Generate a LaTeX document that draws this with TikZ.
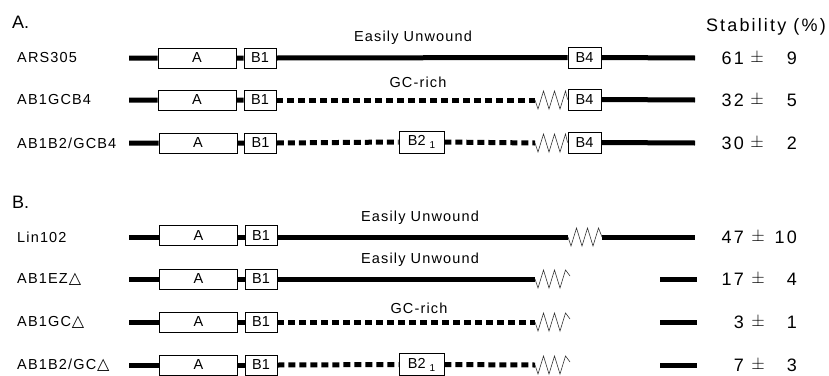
\documentclass[tikz,border=0pt]{standalone}
\usepackage{fontspec}
\setmainfont{Liberation Sans}
\newfontfamily\lblf[LetterSpace=8]{Liberation Sans}
\newfontfamily\bigf[LetterSpace=12]{Liberation Sans}
\newfontfamily\symf{DejaVu Sans}
\newcommand{\tri}{\hspace{1pt}\raisebox{0.5pt}{\symf\fontsize{16}{16}\selectfont △}}
\newcommand{\btwo}{B2\hspace{4pt}\raisebox{-3pt}{\fontsize{10}{10}\selectfont 1}}
\begin{document}
\begin{tikzpicture}[x=1pt,y=-1pt,
  thk/.style={line width=5pt,line cap=butt},
  dsh/.style={line width=5pt,line cap=butt,dash pattern=on 7pt off 4pt},
  zig/.style={line width=0.6pt,black!80,line join=miter},
  zz/.style={to path={-- ++(3,9) -- ++(5.5,-18) -- ++(5.5,18) -- ++(5.5,-18) -- ++(5.5,18) -- ++(5.5,-18) -- (\tikztotarget)}},
  boxA/.style={draw,line width=0.8pt,fill=white,minimum width=78pt,minimum height=20pt,inner sep=0pt,font=\fontsize{14.5}{14.5}\selectfont},
  boxB/.style={draw,line width=0.8pt,fill=white,minimum width=32pt,minimum height=20pt,inner sep=0pt,font=\fontsize{14.5}{14.5}\selectfont},
  boxC/.style={draw,line width=0.8pt,fill=white,minimum width=45pt,minimum height=22pt,inner sep=0pt,font=\fontsize{14.5}{14.5}\selectfont},
  lbl/.style={anchor=west,inner sep=0pt,font=\lblf\fontsize{14.5}{14.5}\selectfont},
  seg/.style={inner sep=0pt,font=\lblf\fontsize{14.5}{14.5}\selectfont},
  head/.style={anchor=west,inner sep=0pt,font=\fontsize{18}{18}\selectfont},
  val/.style={anchor=east,inner sep=0pt,font=\bigf\fontsize{18}{18}\selectfont},
  pm/.style={inner sep=0pt,font=\fontsize{18}{18}\selectfont}
]
\useasboundingbox (0,0) rectangle (829,375);

% headings
\node[head] (hA) at (12,22) {A.};
\node[head] (hB) at (12,202) {B.};
\node[anchor=east,inner sep=0pt,font=\bigf\fontsize{18}{18}\selectfont] (hS) at (826,27) {Stability (\%)};

% ---------- Row A1: ARS305 ----------
\node[lbl] (a1l) at (17,58) {ARS305};
\coordinate (a1s) at (129,58);
\coordinate (a1e) at (695,58);
\node[boxA] (a1A) at (197,58) {A};
\node[boxB] (a1B1) at (260,58) {B1};
\node[boxB,minimum width=33pt,minimum height=21pt] (a1B4) at (584.5,57.5) {B4};
\draw[thk] (a1s) -- (a1A.west) (a1A.east) -- (a1B1.west) (a1B1.east) -- (a1B4.west) (a1B4.east) -- (a1e);
\node[seg] (a1t) at (413,38) {Easily Unwound};
\node[val] (a1v) at (744,58) {61};
\node[pm] (a1p) at (757,58) {$\pm$};
\node[val] (a1w) at (797,58) {9};

% ---------- Row A2: AB1GCB4 ----------
\node[lbl] (a2l) at (17,100) {AB1GCB4};
\coordinate (a2s) at (129,100);
\coordinate (a2z) at (535,100);
\coordinate (a2e) at (695,100);
\node[boxA] (a2A) at (197,100) {A};
\node[boxB] (a2B1) at (260,100) {B1};
\node[boxB,minimum width=33pt,minimum height=21pt] (a2B4) at (584.5,99.5) {B4};
\draw[thk] (a2s) -- (a2A.west) (a2A.east) -- (a2B1.west) (a2B4.east) -- (a2e);
\draw[dsh] (a2B1.east) -- (a2z);
\draw[zig] (a2z) to[zz] (a2B4.west);
\node[seg] (a2t) at (418,82) {GC-rich};
\node[val] (a2v) at (744,100) {32};
\node[pm] (a2p) at (757,100) {$\pm$};
\node[val] (a2w) at (797,100) {5};

% ---------- Row A3: AB1B2/GCB4 ----------
\node[lbl] (a3l) at (17,143) {AB1B2/GCB4};
\coordinate (a3s) at (129,143);
\coordinate (a3z) at (535,143);
\coordinate (a3e) at (695,143);
\node[boxA] (a3A) at (198,143) {A};
\node[boxB] (a3B1) at (260.5,143) {B1};
\node[boxC] (a3B2) at (421.5,142) {\btwo};
\node[boxB,minimum width=33pt,minimum height=21pt] (a3B4) at (584.5,142.5) {B4};
\draw[thk] (a3s) -- (a3A.west) (a3A.east) -- (a3B1.west) (a3B4.east) -- (a3e);
\draw[dsh] (a3B1.east) -- (a3B2.west) (a3B2.east) -- (a3z);
\draw[zig] (a3z) to[zz] (a3B4.west);
\node[val] (a3v) at (744,143) {30};
\node[pm] (a3p) at (757,143) {$\pm$};
\node[val] (a3w) at (797,143) {2};

% ---------- Row B1: Lin102 ----------
\node[lbl] (b1l) at (17,237) {Lin102};
\coordinate (b1s) at (129,237);
\coordinate (b1z) at (568,237);
\coordinate (b1y) at (602,237);
\coordinate (b1e) at (695,237);
\node[boxA] (b1A) at (198.5,235.5) {A};
\node[boxB] (b1B1) at (261,235.5) {B1};
\draw[thk] (b1s) -- (b1A.west |- b1s) (b1A.east |- b1s) -- (b1B1.west |- b1s) (b1B1.east |- b1s) -- (b1z) (b1y) -- (b1e);
\draw[zig] (b1z) to[zz] (b1y);
\node[seg] (b1t) at (420,218) {Easily Unwound};
\node[val] (b1v) at (744,237) {47};
\node[pm] (b1p) at (758,237) {$\pm$};
\node[val] (b1w) at (797,237) {10};

% ---------- Row B2: AB1EZ ----------
\node[lbl] (b2l) at (17,279) {AB1EZ\tri};
\coordinate (b2s) at (129,279);
\coordinate (b2z) at (535,279);
\coordinate (b2y) at (570,276);
\coordinate (b2r) at (660,279);
\coordinate (b2e) at (697,279);
\node[boxA] (b2A) at (198.5,279) {A};
\node[boxB] (b2B1) at (261,279) {B1};
\draw[thk] (b2s) -- (b2A.west) (b2A.east) -- (b2B1.west) (b2B1.east) -- (b2z) (b2r) -- (b2e);
\draw[zig] (b2z) to[zz] (b2y);
\node[seg] (b2t) at (420,260) {Easily Unwound};
\node[val] (b2v) at (744,279) {17};
\node[pm] (b2p) at (758,279) {$\pm$};
\node[val] (b2w) at (797,279) {4};

% ---------- Row B3: AB1GC ----------
\node[lbl] (b3l) at (17,322) {AB1GC\tri};
\coordinate (b3s) at (129,322);
\coordinate (b3z) at (535,322);
\coordinate (b3y) at (570,319);
\coordinate (b3r) at (660,322);
\coordinate (b3e) at (697,322);
\node[boxA] (b3A) at (198.5,322) {A};
\node[boxB] (b3B1) at (261,322) {B1};
\draw[thk] (b3s) -- (b3A.west) (b3A.east) -- (b3B1.west) (b3r) -- (b3e);
\draw[dsh] (b3B1.east) -- (b3z);
\draw[zig] (b3z) to[zz] (b3y);
\node[seg] (b3t) at (419,308) {GC-rich};
\node[val] (b3v) at (744,322) {3};
\node[pm] (b3p) at (758,322) {$\pm$};
\node[val] (b3w) at (797,322) {1};

% ---------- Row B4: AB1B2/GC ----------
\node[lbl] (b4l) at (17,365) {AB1B2/GC\tri};
\coordinate (b4s) at (129,365);
\coordinate (b4z) at (535,365);
\coordinate (b4y) at (570,362);
\coordinate (b4r) at (660,365);
\coordinate (b4e) at (697,365);
\node[boxA] (b4A) at (198.5,365) {A};
\node[boxB] (b4B1) at (261,365) {B1};
\node[boxC] (b4B2) at (421.5,364.5) {\btwo};
\draw[thk] (b4s) -- (b4A.west) (b4A.east) -- (b4B1.west) (b4r) -- (b4e);
\draw[dsh] (b4B1.east) -- (b4B2.west) (b4B2.east) -- (b4z);
\draw[zig] (b4z) to[zz] (b4y);
\node[val] (b4v) at (744,365) {7};
\node[pm] (b4p) at (758,365) {$\pm$};
\node[val] (b4w) at (797,365) {3};
\end{tikzpicture}
\end{document}
